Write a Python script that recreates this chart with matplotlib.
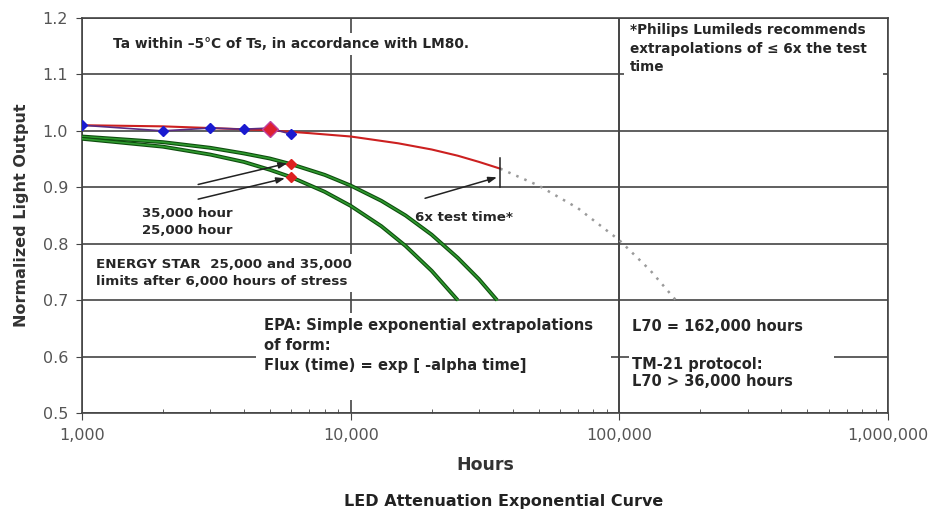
import matplotlib
matplotlib.use('Agg')
import matplotlib.pyplot as plt
from matplotlib.patches import Rectangle
from matplotlib.ticker import FixedLocator, LogLocator, NullFormatter

# measured points (blue diamonds)
hours_meas = [1000, 2000, 3000, 4000, 5000, 6000]
output_meas = [1.010, 1.000, 1.005, 1.003, 1.005, 0.994]

# fitted curve, solid part up to 6x test time
hours_fit = [1000, 2000, 3000, 5000, 7000, 10000, 15000, 20000, 25000, 30000, 36000]
output_fit = [1.010, 1.008, 1.005, 1.001, 0.996, 0.990, 0.978, 0.967, 0.956, 0.945, 0.933]

# extrapolated part (dotted)
hours_extrap = [36000, 50000, 70000, 100000, 130000, 162000]
output_extrap = [0.933, 0.903, 0.863, 0.806, 0.753, 0.700]

# ENERGY STAR limit curves
hours_es35 = [1000, 2000, 3000, 4000, 5000, 6000, 8000, 10000, 13000, 16000, 20000, 25000, 30000, 35000]
output_es35 = [0.990, 0.980, 0.970, 0.960, 0.951, 0.941, 0.922, 0.903, 0.876, 0.850, 0.816, 0.775, 0.737, 0.700]
hours_es25 = [1000, 2000, 3000, 4000, 5000, 6000, 8000, 10000, 13000, 16000, 20000, 25000]
output_es25 = [0.986, 0.972, 0.958, 0.945, 0.931, 0.918, 0.892, 0.867, 0.831, 0.796, 0.752, 0.700]

# limits at 6,000 hours (red diamonds)
hours_limit = [6000, 6000]
output_limit = [0.941, 0.918]

x_ticks = [1000, 10000, 100000, 1000000]
x_labels = ['1,000', '10,000', '100,000', '1,000,000']
y_ticks = [0.5, 0.6, 0.7, 0.8, 0.9, 1.0, 1.1, 1.2]

fig = plt.figure(figsize=(9.35, 5.12), dpi=100)
ax = fig.add_axes([0.0877, 0.1934, 0.950 - 0.0877, 0.9648 - 0.1934])

grid_col = '#444444'
ax.set_xscale('log')
ax.set_xlim(1000, 1000000)
ax.set_ylim(0.5, 1.2)
ax.xaxis.set_major_locator(FixedLocator(x_ticks))
ax.set_xticklabels(x_labels)
ax.xaxis.set_minor_locator(LogLocator(base=10, subs=range(2, 10)))
ax.xaxis.set_minor_formatter(NullFormatter())
ax.set_yticks(y_ticks)
ax.set_yticklabels([f'{v:.1f}' for v in y_ticks])
ax.set_axisbelow(True)
ax.grid(True, which='major', color=grid_col, lw=1.2)
for s in ax.spines.values():
    s.set_color(grid_col)
    s.set_linewidth(1.2)
ax.tick_params(axis='x', which='major', direction='out', length=5, color=grid_col,
               labelsize=11.5, labelcolor='#555555', pad=6)
ax.tick_params(axis='x', which='minor', direction='in', length=3, color=grid_col)
ax.tick_params(axis='y', direction='out', length=4, color=grid_col,
               labelsize=11.5, labelcolor='#555555', pad=6)

# white boxes that hide the grid behind the notes
for (x0, y0, w, h) in [(0.672, 0.843, 0.322, 0.152),
                       (0.216, 0.033, 0.440, 0.220),
                       (0.678, 0.033, 0.255, 0.220)]:
    ax.add_patch(Rectangle((x0, y0), w, h, transform=ax.transAxes,
                           facecolor='white', edgecolor='none', zorder=2))
# the 100,000 line stays visible between the two lower boxes
ax.axvline(x_ticks[2], color=grid_col, lw=1.2, zorder=2.5)

# curves
ax.plot(hours_es35, output_es35, color='#0e4d0e', lw=2.8, zorder=3, solid_capstyle='butt')
ax.plot(hours_es35, output_es35, color='#2f9a2f', lw=1.2, zorder=3)
ax.plot(hours_es25, output_es25, color='#0e4d0e', lw=2.8, zorder=3, solid_capstyle='butt')
ax.plot(hours_es25, output_es25, color='#2f9a2f', lw=1.2, zorder=3)
ax.plot(hours_fit, output_fit, color='#cc2020', lw=1.5, zorder=3)
ax.plot(hours_extrap, output_extrap, color='#9a9a9a', lw=1.8, ls=(0, (1, 2.5)), zorder=3)
ax.plot(hours_meas, output_meas, color='#5a2d82', lw=1.2, zorder=4)
ax.plot(hours_meas, output_meas, 'D', color='#1a1ad0', ms=5.5, zorder=5)
ax.plot([5000], [1.003], 'D', color='#dd2030', mec='#c040a0', mew=1, ms=8, zorder=6)
ax.plot(hours_limit, output_limit, 'D', color='#dd2020', ms=5.5, zorder=5)
ax.plot([36000, 36000], [0.901, 0.952], color='#222222', lw=1.1, zorder=4)

arrow = dict(arrowstyle='-|>,head_length=0.5,head_width=0.18', color='#222222', lw=1.1,
             shrinkA=0, shrinkB=0)
ax.annotate('', xy=(5800, 0.9425), xytext=(2705, 0.905), arrowprops=arrow, zorder=6)
ax.annotate('', xy=(5690, 0.916), xytext=(2705, 0.879), arrowprops=arrow, zorder=6)
ax.annotate('', xy=(35000, 0.9177), xytext=(18900, 0.8805), arrowprops=arrow, zorder=6)

# notes
txt = dict(transform=ax.transAxes, fontweight='bold', color='#262626',
           ha='left', zorder=7, linespacing=1.4)
ax.text(0.038, 0.934, 'Ta within \u20135\u00b0C of Ts, in accordance with LM80.', va='center',
        fontsize=9.9, bbox=dict(facecolor='white', edgecolor='none', pad=3), **txt)
ax.text(0.680, 0.987, '*Philips Lumileds recommends\nextrapolations of \u2264 6x the test\ntime',
        va='top', fontsize=9.8, **txt)
ax.text(0.074, 0.484, '35,000 hour\n25,000 hour', va='center', fontsize=9.5, **txt)
ax.text(0.413, 0.496, '6x test time*', va='center', fontsize=9.6, **txt)
ax.text(0.017, 0.354, 'ENERGY STAR  25,000 and 35,000\nlimits after 6,000 hours of stress',
        va='center', fontsize=9.7, bbox=dict(facecolor='white', edgecolor='none', pad=3), **txt)
ax.text(0.226, 0.240, 'EPA: Simple exponential extrapolations\nof form:\nFlux (time) = exp [ -alpha time]',
        va='top', fontsize=10.6, **txt)
ax.text(0.682, 0.218, 'L70 = 162,000 hours', va='center', fontsize=10.5, **txt)
ax.text(0.682, 0.101, 'TM-21 protocol:\nL70 > 36,000 hours', va='center', fontsize=10.5,
        **dict(txt, linespacing=1.2))

ax.set_xlabel('Hours', fontsize=12.5, fontweight='bold', color='#333333', labelpad=9)
ax.set_ylabel('Normalized Light Output', fontsize=11.5, fontweight='bold', color='#333333',
              labelpad=10)
fig.text(0.539, 0.006, 'LED Attenuation Exponential Curve', ha='center', va='bottom',
         fontsize=11.5, fontweight='bold', color='#222222')

fig.savefig('out.png', dpi=100)
